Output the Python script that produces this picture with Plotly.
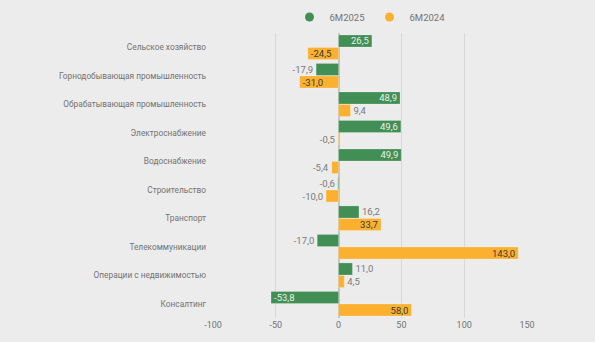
import plotly.graph_objects as go

categories = [
    "Сельское хозяйство",
    "Горнодобывающая промышленность",
    "Обрабатывающая промышленность",
    "Электроснабжение",
    "Водоснабжение",
    "Строительство",
    "Транспорт",
    "Телекоммуникации",
    "Операции с недвижимостью",
    "Консалтинг",
]
values_2025 = [26.5, -17.9, 48.9, 49.6, 49.9, -0.6, 16.2, -17.0, 11.0, -53.8]
values_2024 = [-24.5, -31.0, 9.4, -0.5, -5.4, -10.0, 33.7, 143.0, 4.5, 58.0]
series_names = ["6M2025", "6M2024"]
x_ticks = [-100, -50, 0, 50, 100, 150]

GREEN = "#428f55"
ORANGE = "#fbb12f"
BG = "#ebeceb"
FONT = "Roboto, sans-serif"
TXT = "#737373"


def positions(vals, threshold=20):
    # long bars carry their label inside, short ones outside
    return ["inside" if abs(v) >= threshold else "outside" for v in vals]


fig = go.Figure()
for name, vals, color, inside_col in [
    (series_names[0], values_2025, GREEN, "#e9f1ea"),
    (series_names[1], values_2024, ORANGE, "#3a3a3a"),
]:
    fig.add_trace(go.Bar(
        y=categories, x=vals, name=name, orientation="h",
        marker=dict(color=color, line=dict(color="rgba(255,255,255,0.35)", width=0.6)),
        texttemplate="%{x:.1f}",
        textposition=positions(vals),
        insidetextanchor="end",
        insidetextfont=dict(color=inside_col, size=9.5, family=FONT),
        outsidetextfont=dict(color="#7a7a7a", size=9.5, family=FONT),
        constraintext="none",
        cliponaxis=False,
        showlegend=False,
        hoverinfo="skip",
    ))

# legend entries drawn as round markers
for name, color in zip(series_names, [GREEN, ORANGE]):
    fig.add_trace(go.Scatter(
        x=[None], y=[None], mode="markers", name=name,
        marker=dict(color=color, size=9, symbol="circle"),
    ))

fig.update_layout(
    width=595, height=342,
    margin=dict(l=213, r=68, t=33, b=24, autoexpand=False),
    paper_bgcolor=BG, plot_bgcolor=BG,
    font=dict(family=FONT, size=9, color=TXT),
    separators=", ",
    barmode="group", bargap=0.12, bargroupgap=0.04,
    legend=dict(
        orientation="h", x=0.5, xanchor="center",
        yref="container", y=1 - 17 / 342, yanchor="middle",
        font=dict(size=9.5, color=TXT), itemwidth=30,
        bgcolor="rgba(0,0,0,0)",
    ),
    xaxis=dict(
        range=[-100, 150], tickvals=x_ticks, ticktext=[str(t) for t in x_ticks],
        showgrid=True, gridcolor="#d8d9d7", gridwidth=1,
        zeroline=True, zerolinecolor="#c4c5c3", zerolinewidth=1.5,
        showline=False, ticks="", tickfont=dict(size=9, color=TXT),
        automargin=False,
    ),
    yaxis=dict(
        autorange="reversed", showgrid=False, zeroline=False, ticks="",
        ticklabelstandoff=6, tickfont=dict(size=8.3, color=TXT),
        automargin=False,
    ),
)

fig.write_html("out.html")
